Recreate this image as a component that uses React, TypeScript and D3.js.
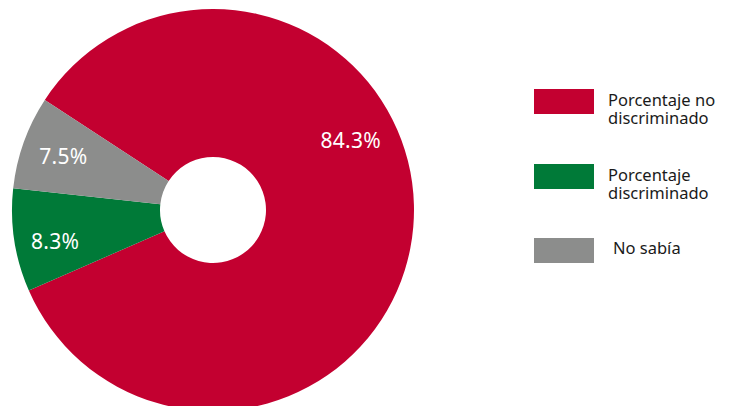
import React, { useEffect, useRef } from 'react';
import * as d3 from 'd3';

const categories = ['Porcentaje no discriminado', 'Porcentaje discriminado', 'No sabía'];
const legendLines = [['Porcentaje no', 'discriminado'], ['Porcentaje', 'discriminado'], ['No sabía']];
const values = [84.3, 8.3, 7.5];
const valueLabels = ['84.3%', '8.3%', '7.5%'];
const colors = ['#C30030', '#007A38', '#8C8D8C'];

export default function App() {
    const svgRef = useRef<SVGSVGElement>(null);

    useEffect(() => {
        const svg = d3.select(svgRef.current);
        svg.selectAll('*').remove();

        const width = 730;
        const height = 406;
        const cx = 213;
        const cy = 210;
        const outer = 201;
        const inner = 53;
        const startDeg = -56.8;
        const rad = (deg: number) => (deg * Math.PI) / 180;

        svg.attr('width', width).attr('height', height);

        const pie = d3.pie<number>()
            .sort(null)
            .startAngle(rad(startDeg))
            .endAngle(rad(startDeg) + 2 * Math.PI);

        const arcs = pie(values);
        const arc = d3.arc<d3.PieArcDatum<number>>().innerRadius(inner).outerRadius(outer);

        const g = svg.append('g').attr('transform', `translate(${cx},${cy})`);

        g.selectAll('path')
            .data(arcs)
            .enter()
            .append('path')
            .attr('d', arc)
            .attr('fill', (_, i) => colors[i]);

        // labels: the big slice's label sits up-right, not at its middle
        const labelAngle = (d: d3.PieArcDatum<number>, i: number) =>
            i === 0 ? rad(63.4) : (d.startAngle + d.endAngle) / 2 + (i === 1 ? rad(-2.6) : 0);
        const labelR = [154, 161, 159];

        g.selectAll('text.val')
            .data(arcs)
            .enter()
            .append('text')
            .attr('class', 'val')
            .attr('x', (d, i) => Math.sin(labelAngle(d, i)) * labelR[i])
            .attr('y', (d, i) => -Math.cos(labelAngle(d, i)) * labelR[i])
            .attr('dy', '0.35em')
            .attr('text-anchor', 'middle')
            .style('font-family', '"Noto Sans", sans-serif')
            .style('font-size', '21px')
            .style('letter-spacing', '0.3px')
            .style('fill', '#fff')
            .text((_, i) => valueLabels[i]);

        // legend
        const legendTops = [89, 164, 238];
        const lg = svg.append('g');
        categories.forEach((c, i) => {
            lg.append('rect')
                .attr('x', 534)
                .attr('y', legendTops[i])
                .attr('width', 60)
                .attr('height', 25)
                .attr('fill', colors[i])
                .append('title')
                .text(c);
            const tx = i === 2 ? 613 : 608;
            const base = legendTops[i] + (legendLines[i].length === 1 ? 16 : 17);
            legendLines[i].forEach((line, j) => {
                lg.append('text')
                    .attr('x', tx)
                    .attr('y', base + j * 18)
                    .style('font-family', '"Noto Sans", sans-serif')
                    .style('font-size', '16.5px')
                    .style('fill', '#1a1a1a')
                    .text(line);
            });
        });
    }, []);

    return (
        <div style={{ position: 'absolute', left: 0, top: 0 }}>
            <svg ref={svgRef} style={{ display: 'block' }} />
        </div>
    );
}
